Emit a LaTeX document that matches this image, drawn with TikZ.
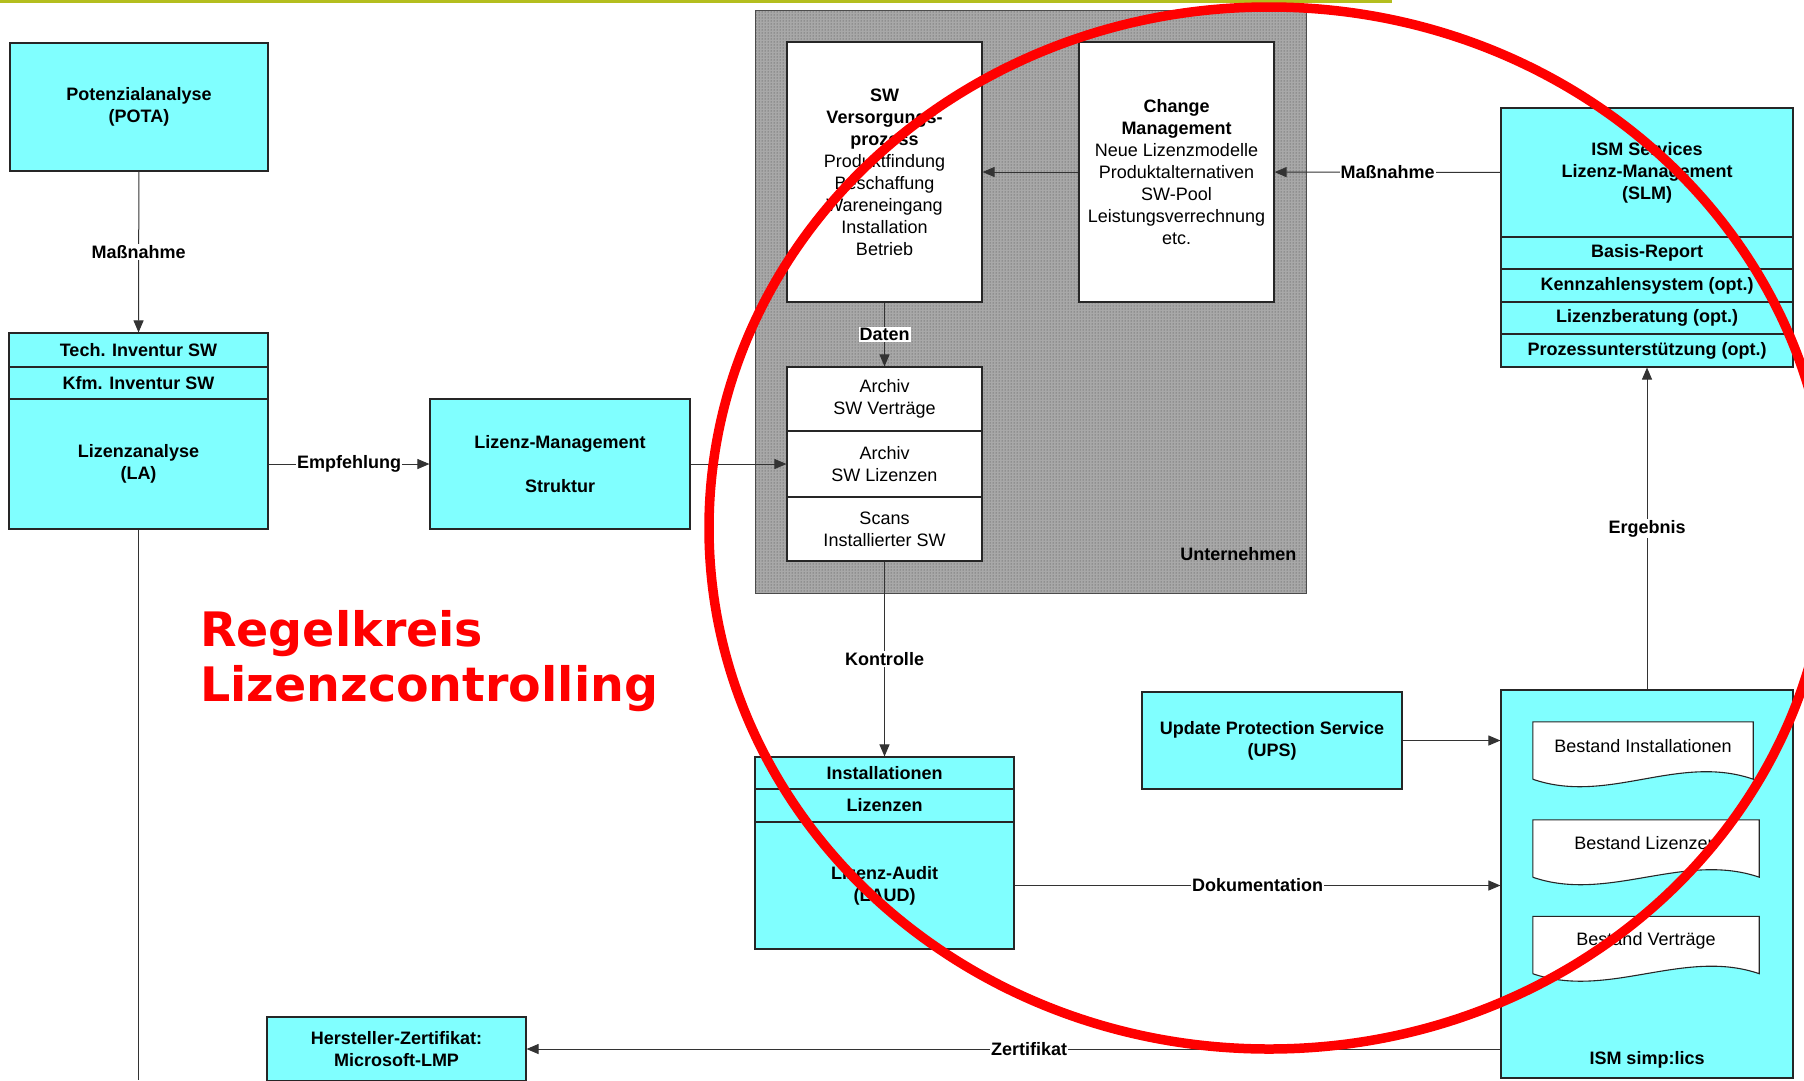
\documentclass[tikz,border=0pt]{standalone}
\usepackage{fontspec}
\setmainfont{Liberation Sans}
\newfontfamily\titlefont{DejaVu Sans}
\usepackage{tikz}
\usetikzlibrary{arrows.meta, patterns}
\definecolor{boxcyan}{RGB}{128,255,255}
\definecolor{barolive}{RGB}{180,190,30}

\begin{document}
\begin{tikzpicture}[x=1pt, y=-1pt,
	every node/.style={font=\fontsize{18}{22}\selectfont},
	cbox/.style={rectangle, draw=black!85, line width=1.1pt, fill=boxcyan, align=center, inner sep=0pt, font=\fontsize{18}{22}\selectfont\bfseries},
	wbox/.style={rectangle, draw=black!85, line width=1.1pt, fill=white, align=center, inner sep=0pt},
	lbl/.style={fill=white, inner sep=1pt, font=\fontsize{18}{22}\selectfont\bfseries},
	conn/.style={draw=black!80, line width=1pt},
	arr/.style={conn, -{Triangle[length=12pt, width=10pt]}},
	docbox/.style={inner sep=0pt, minimum width=#1, minimum height=57},
	docline/.style={draw=black!85, line width=1.1pt, fill=white}]
			\useasboundingbox (0,0) rectangle (1804,1080);
			\draw[barolive, line width=3pt] (0,1.5) -- (1392,1.5);
			
			% Nodes
			\node[cbox, minimum width=258, minimum height=128] (pota) at (139,107) {Potenzialanalyse\\(POTA)};
			\node[cbox, minimum width=259, minimum height=34] (tech) at (138.5,350) {Tech. Inventur SW};
			\node[cbox, minimum width=259, minimum height=32] (kfm) at (138.5,383) {Kfm. Inventur SW};
			\node[cbox, minimum width=259, minimum height=130] (la) at (138.5,464) {Lizenzanalyse\\(LA)};
			\node[cbox, minimum width=260, minimum height=130] (lm) at (560,464) {Lizenz-Management\\[22pt]Struktur};
			\coordinate (laend) at (138.5,1080);
			
			\node[draw=black!70, line width=1pt, fill=black!34, postaction={pattern=dots, pattern color=black!75}, minimum width=551, minimum height=583] (firm) at (1030.5,301.5) {};
			\node[anchor=east, font=\fontsize{18}{22}\selectfont\bfseries] (firmlbl) at (1300,554) {Unternehmen};
			\node[wbox, minimum width=195, minimum height=260] (swv) at (884.5,172) {\textbf{SW}\\\textbf{Versorgungs-}\\\textbf{prozess}\\Produktfindung\\Beschaffung\\Wareneingang\\Installation\\Betrieb};
			\node[wbox, minimum width=195, minimum height=260] (cm) at (1176.5,172) {\textbf{Change}\\\textbf{Management}\\Neue Lizenzmodelle\\Produktalternativen\\SW-Pool\\Leistungsverrechnung\\etc.};
			\node[wbox, minimum width=195, minimum height=64] (arch1) at (884.5,399) {Archiv\\SW Verträge};
			\node[wbox, minimum width=195, minimum height=66] (arch2) at (884.5,464) {Archiv\\SW Lizenzen};
			\node[wbox, minimum width=195, minimum height=64] (arch3) at (884.5,529) {Scans\\Installierter SW};
			
			\node[cbox, minimum width=259, minimum height=32] (inst) at (884.5,773) {Installationen};
			\node[cbox, minimum width=259, minimum height=33] (liz) at (884.5,805.5) {Lizenzen};
			\node[cbox, minimum width=259, minimum height=127] (laud) at (884.5,885.5) {Lizenz-Audit\\(LAUD)};
			\node[cbox, minimum width=260, minimum height=97] (ups) at (1272,740.5) {Update Protection Service\\(UPS)};
			
			\node[cbox, minimum width=292, minimum height=129] (slm) at (1647,172.5) {ISM Services\\Lizenz-Management\\(SLM)};
			\node[cbox, minimum width=292, minimum height=32] (basis) at (1647,253) {Basis-Report};
			\node[cbox, minimum width=292, minimum height=33] (kenn) at (1647,285.5) {Kennzahlensystem (opt.)};
			\node[cbox, minimum width=292, minimum height=32] (beratung) at (1647,318) {Lizenzberatung (opt.)};
			\node[cbox, minimum width=292, minimum height=33] (proz) at (1647,350.5) {Prozessunterstützung (opt.)};
			
			\node[cbox, minimum width=292, minimum height=388] (simp) at (1647,884) {};
			\node[font=\fontsize{18}{22}\selectfont\bfseries] (simplbl) at (1647,1060) {ISM simp:lics};
			\node[docbox=220] (docinst) at (1643,750.5) {};
			\node[docbox=226] (docliz) at (1646,848.5) {};
			\node[docbox=226] (docvert) at (1646,945) {};
			
			\node[cbox, minimum width=259, minimum height=64] (herst) at (396.5,1049) {Hersteller-Zertifikat:\\Microsoft-LMP};
			
			\node[anchor=north west, inner sep=0pt, align=left, text=red, font=\titlefont\bfseries\fontsize{47.5}{55}\selectfont] (title) at (200,610) {Regelkreis\\Lizenzcontrolling};
			
			% Documents
			\foreach \d in {docinst, docliz, docvert}
				\draw[docline] (\d.south west) -- (\d.north west) -- (\d.north east) -- (\d.south east) .. controls +(-75,-26) and +(75,26) .. (\d.south west);
			\node (docinsttxt) at ([yshift=4.5pt]docinst.center) {Bestand Installationen};
			\node (doclizt) at ([yshift=5.5pt]docliz.center) {Bestand Lizenzen};
			\node (docverttxt) at ([yshift=4pt]docvert.center) {Bestand Verträge};
			
			% Edges
			\draw[arr] (pota) -- node[lbl] {Maßnahme} (tech);
			\draw[arr] (la) -- node[lbl] {Empfehlung} (lm);
			\draw[conn] (la) -- (laend);
			\draw[arr] (lm) -- (arch2);
			\draw[arr] (cm) -- (swv);
			\draw[arr] (slm) -- node[lbl] {Maßnahme} (cm);
			\draw[arr] (swv) -- node[lbl] {Daten} (arch1);
			\draw[arr] (arch3) -- node[lbl] {Kontrolle} (inst);
			\draw[arr] (laud) -- node[lbl] {Dokumentation} (laud -| simp.west);
			\draw[arr] (ups) -- (ups -| simp.west);
			\draw[arr] (simp) -- node[lbl] {Ergebnis} (proz);
			\draw[arr] (herst -| simp.west) -- node[lbl, pos=0.484] {Zertifikat} (herst);
			
			% Ring
			\draw[red, line width=9.5pt] (1269,528) ellipse [x radius=560, y radius=521];
		\end{tikzpicture}
\end{document}
